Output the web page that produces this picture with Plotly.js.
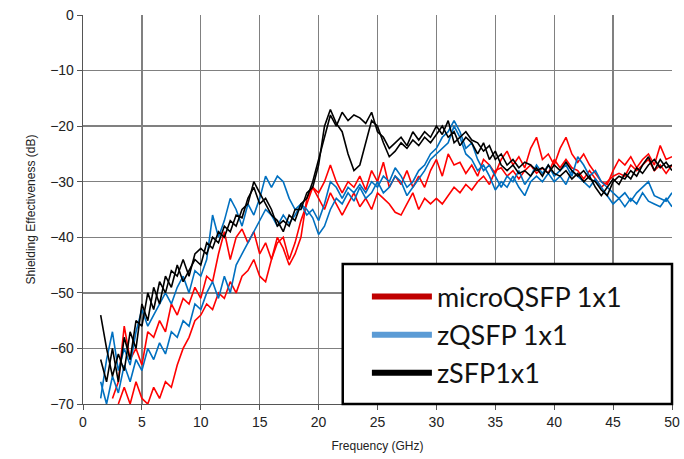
<!DOCTYPE html>
<html>
<head>
<meta charset="utf-8">
<script src="https://cdn.plot.ly/plotly-3.0.1.min.js"></script>
<style>html,body{margin:0;padding:0;background:#fff;}#chart{width:684px;height:459px;}</style>
</head>
<body>
<div id="chart"></div>
<script>
// Frequency grid (GHz)
var freq = [1.5,2,2.5,3,3.5,4,4.5,5,5.5,6,6.5,7,7.5,8,8.5,9,9.5,10,10.5,11,11.5,12,12.5,13,13.5,14,14.5,15,15.5,16,16.5,17,17.5,18,18.5,19,19.5,20,20.5,21,21.5,22,22.5,23,23.5,24,24.5,25,25.5,26,26.5,27,27.5,28,28.5,29,29.5,30,30.5,31,31.5,32,32.5,33,33.5,34,34.5,35,35.5,36,36.5,37,37.5,38,38.5,39,39.5,40,40.5,41,41.5,42,42.5,43,43.5,44,44.5,45,45.5,46,46.5,47,47.5,48,48.5,49,49.5,50];

var seriesNames = ["microQSFP 1x1", "zQSFP 1x1", "zSFP1x1"];

var microQSFP_a = [null,null,-69,-66,-56,-62,-60,-63,-57,-58,-55,-57,-52,-54,-51,-52,-49,-51,-47,-48,-43,-39,-44,-40,-38.5,-41,-39,-43,-41,-44,-40,-42,-45,-43,-40,-33,-31,-32,-30,-27,-30,-32,-30,-31,-29,-31.5,-28,-30,-26.5,-31,-29,-30.5,-28,-31,-29,-31,-28,-26,-29,-25,-27,-26.5,-28.5,-27,-29,-26,-27,-28.5,-26,-24.5,-27,-25.5,-27.5,-24,-22,-26,-25,-27,-24,-22,-25,-26.5,-25,-27,-28.5,-30,-30.5,-28,-26,-27,-25.5,-27.5,-26,-25,-27,-23.5,-26,-25.5];
var microQSFP_b = [null,null,null,-70,-67,-70,-66,-69,-70,-67,-69,-66,-67,-63,-60,-58,-55,-54,-52,-53,-50,-51,-48,-50,-47,-46,-44,-47,-48,-44,-41,-40,-44,-41,-37,-34,-31,-33,-35,-32,-34,-36,-34,-32,-34.5,-33,-35,-32,-33,-34,-35.5,-36,-34,-32,-35,-33,-34,-33,-34,-32.5,-31,-32,-30.5,-31.5,-30,-29,-30.5,-28,-27.5,-29,-28,-29.5,-28,-27,-28.5,-27.5,-28.5,-26,-27.5,-26,-27.5,-28,-29.5,-28,-29.5,-31,-30,-29,-28.5,-29,-27,-28,-27,-26,-28,-27,-28.5,-27];

var zQSFP_a = [-69,-62,-57,-64,-60,-63,-57,-53,-56,-54,-52,-50,-52,-49,-47,-50,-46,-47,-44,-36,-40,-37,-33,-35,-38,-34,-36,-33,-29,-31,-29,-30,-33,-35,-34,-36,-35,-37,-34,-30,-31,-33,-31,-32,-30.5,-32,-30,-31,-29,-30,-27.5,-29,-31,-30,-28,-27,-25,-24,-22,-21,-19,-21,-24,-23,-26,-28,-27,-29,-31,-29,-30,-28,-30.5,-29,-27,-28.5,-27,-29,-28,-27,-29,-25.5,-27,-29,-28,-30,-31,-32,-33,-32,-33.5,-32,-31,-30,-32.5,-33,-33.5,-32];
var zQSFP_b = [-66,-70,-65,-68,-63,-66,-62,-64,-60,-62,-59,-61,-57,-58,-55,-56,-52,-53,-50,-48,-51,-47,-50,-45,-43,-41,-39,-37,-35,-36,-38,-36,-37.5,-36,-34,-35,-36.5,-39.5,-38,-35,-33,-34,-32,-33.5,-31,-33,-32,-30,-32,-31,-29,-30,-32.5,-31,-29.5,-28,-26,-25,-24,-23,-20,-22,-25,-26,-28,-27,-29,-31.5,-30,-31,-29,-31,-32.5,-30,-29,-30,-28.5,-30,-29,-30.5,-28,-29,-30,-31,-29.5,-31,-32.5,-34,-33,-34.5,-33,-34,-32,-33.5,-34,-34.5,-33,-34.5];

var zSFP_a = [-54,-60,-65,-61,-64,-57,-60,-52,-55,-49,-52,-47,-49,-45,-48,-46,-44,-45,-41,-42,-39,-40,-37,-38,-35,-34,-30,-32,-34,-36,-37,-39,-36,-37,-34,-33,-30,-26,-22,-18,-20,-17.5,-19,-18,-18.5,-19.5,-17.5,-21,-22,-24,-23,-22,-23.5,-21,-22.5,-21,-22,-20,-21.5,-19,-23,-22,-21,-22.5,-23,-24.5,-23.5,-26,-25,-27,-26,-27.5,-26.5,-27,-28,-27.5,-28.5,-27,-28,-26.5,-28,-29,-28,-29.5,-30,-31.5,-32.5,-30,-29,-29.5,-28,-29,-27,-25.5,-28,-26,-27.5,-27];
var zSFP_b = [-62,-66,-60,-66,-58,-62,-55,-56,-50,-53,-48,-50,-46,-47,-44,-47,-43,-42,-43,-40,-41,-38,-39,-36,-36.5,-33,-31,-34,-33,-35,-38,-37,-38,-35,-35,-32,-31,-27,-20,-17,-19.5,-21,-25,-28,-27,-23,-19,-20,-23,-25.5,-24.5,-23,-24,-22.5,-23.5,-22,-23,-21.5,-20,-22,-21,-23.5,-22,-23,-25,-23,-26,-24.5,-27,-28,-27,-28.5,-28,-29,-27.5,-29,-27,-28.5,-29,-28,-29.5,-28.5,-30,-29,-31,-32.5,-31,-29.5,-30.5,-28.5,-29.5,-27.5,-28.5,-27,-26,-27.5,-26.5,-28];

var lineColors = ["#FF0000", "#0070C0", "#000000"];
var legendColors = ["#C00000", "#5B9BD5", "#000000"];

function dataTrace(y, c) {
  return {x: freq, y: y, type: "scatter", mode: "lines", showlegend: false,
          line: {color: c, width: 1.6}, hoverinfo: "skip", connectgaps: false};
}
var traces = [
  dataTrace(microQSFP_a, lineColors[0]),
  dataTrace(microQSFP_b, lineColors[0]),
  dataTrace(zQSFP_a, lineColors[1]),
  dataTrace(zQSFP_b, lineColors[1]),
  dataTrace(zSFP_a, lineColors[2]),
  dataTrace(zSFP_b, lineColors[2])
];
for (var i = 0; i < 3; i++) {
  traces.push({x: [null], y: [null], type: "scatter", mode: "lines", name: seriesNames[i],
               showlegend: true, line: {color: legendColors[i], width: 6}});
}

var tickFont = {family: "Liberation Sans, Arial, sans-serif", size: 14, color: "#222"};
var layout = {
  width: 684, height: 459,
  margin: {l: 83, r: 12, t: 15, b: 55, pad: 0},
  paper_bgcolor: "#fff", plot_bgcolor: "#fff",
  showlegend: true,
  xaxis: {
    range: [0, 50], dtick: 5, tick0: 0, tickfont: tickFont,
    showgrid: true, gridcolor: "#808080", gridwidth: 1.3,
    showline: true, linecolor: "#555", linewidth: 1.3,
    ticks: "outside", ticklen: 5, tickcolor: "#555", zeroline: false,
    title: {text: "Frequency (GHz)", font: {family: "Liberation Sans, Arial, sans-serif", size: 12, color: "#222"}, standoff: 12}
  },
  yaxis: {
    range: [-70, 0], dtick: 10, tick0: 0, tickfont: tickFont,
    showgrid: true, gridcolor: "#808080", gridwidth: 1.3,
    showline: true, linecolor: "#555", linewidth: 1.3,
    ticks: "outside", ticklen: 5, tickcolor: "#555", zeroline: false,
    title: {text: "Shielding Effectiveness (dB)", font: {family: "Liberation Sans, Arial, sans-serif", size: 12, color: "#222"}, standoff: 12}
  },
  shapes: [{
    type: "rect", xref: "paper", yref: "paper", layer: "above",
    x0: 0.441, x1: 1.0, y0: 0.0, y1: 0.36,
    fillcolor: "#fff", line: {color: "#000", width: 2.5}
  }],
  legend: {
    x: 0.482, y: 0.338, xanchor: "left", yanchor: "top",
    bgcolor: "rgba(0,0,0,0)", borderwidth: 0, itemwidth: 60,
    font: {family: "Lato, Liberation Sans, sans-serif", size: 27, color: "#111"}
  }
};

Plotly.newPlot("chart", traces, layout, {displayModeBar: false, staticPlot: true});
</script>
</body>
</html>
